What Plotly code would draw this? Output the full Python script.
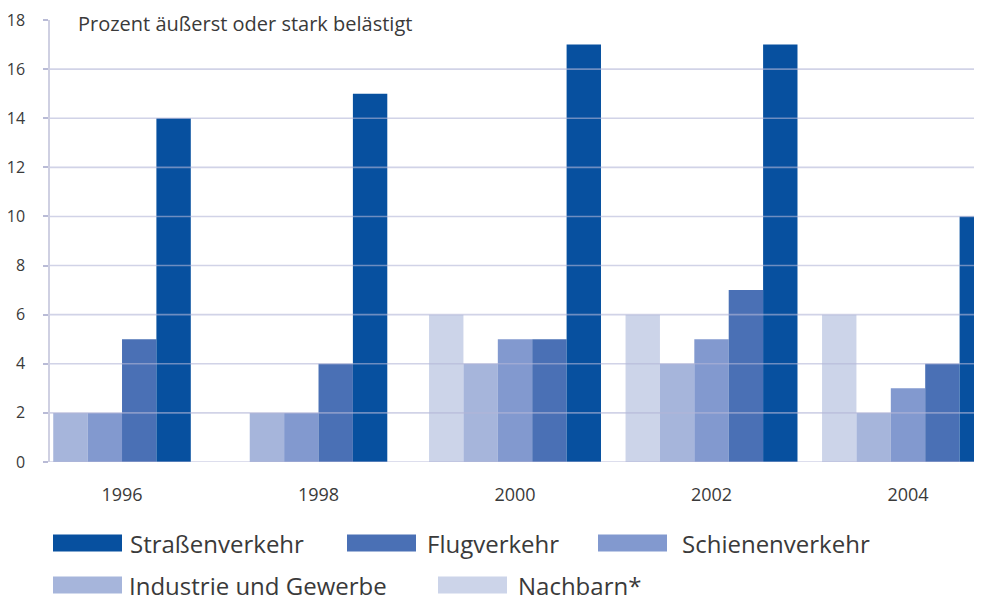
import plotly.graph_objects as go

# ---------------- data ----------------
years = [1996, 1998, 2000, 2002, 2004]
series_names = ["Nachbarn*", "Industrie und Gewerbe", "Schienenverkehr",
                "Flugverkehr", "Straßenverkehr"]
nachbarn = [None, None, 6, 6, 6]
industrie = [2, 2, 4, 4, 2]
schiene = [2, 2, 5, 5, 3]
flug = [5, 4, 5, 7, 4]
strasse = [14, 15, 17, 17, 10]
y_ticks = [0, 2, 4, 6, 8, 10, 12, 14, 16, 18]
grid_values = [0, 2, 4, 6, 8, 10, 12, 14, 16]
y_title = "Prozent äußerst oder stark belästigt"

# ---------------- style ----------------
series_values = [nachbarn, industrie, schiene, flug, strasse]
colors = ["#ccd4e9", "#a6b5db", "#8299cf", "#4a70b5", "#07509f"]
BAR_W = 0.35
FONT = "Open Sans"
TEXT = "#3a3a3a"

OFF = 8  # page body margin
W, H = 982 - OFF, 601 - OFF
ML, MR, MT, MB = 42, 0, 12, 139
PW, PH = W - ML - MR, H - MT - MB


def px_x(x):
    # x given in page pixels
    return (x - OFF - ML) / PW


def px_y(y):
    return (H - MB - (y - OFF)) / PH


# centre present bars in each group
n_present = [sum(v[i] is not None for v in series_values) for i in range(len(years))]
rank = [0] * len(years)

fig = go.Figure()
for name, vals, col in zip(series_names, series_values, colors):
    offsets = []
    for i, v in enumerate(vals):
        if v is None:
            offsets.append(0)
        else:
            offsets.append((rank[i] - n_present[i] / 2) * BAR_W)
            rank[i] += 1
    fig.add_trace(go.Bar(
        x=years, y=vals, name=name, width=BAR_W, offset=offsets,
        marker=dict(color=col, line=dict(width=0)), showlegend=False,
    ))

shapes = []
for g in grid_values:
    shapes.append(dict(type="line", xref="paper", yref="y", x0=0, x1=1, y0=g, y1=g,
                       line=dict(color="rgba(178,182,215,0.6)", width=1.6), layer="above"))

annotations = [dict(text=y_title, xref="paper", yref="y", x=px_x(76), y=18,
                    yshift=-3, xanchor="left", yanchor="middle", showarrow=False,
                    font=dict(family=FONT, size=20, color=TEXT))]

# custom legend (wide swatches)
legend_order = [4, 3, 2, 1, 0]
legend_pos = [(53, 543, 128), (347, 543, 425), (598, 543, 680),
              (53, 585, 127), (438, 585, 516)]
for idx, (sx, sy, tx) in zip(legend_order, legend_pos):
    shapes.append(dict(type="rect", xref="paper", yref="paper",
                       x0=px_x(sx), x1=px_x(sx + 69), y0=px_y(sy + 8.5), y1=px_y(sy - 8.5),
                       fillcolor=colors[idx], line=dict(width=0)))
    annotations.append(dict(text=series_names[idx], xref="paper", yref="paper",
                            x=px_x(tx), y=px_y(sy), xanchor="left", yanchor="middle",
                            showarrow=False,
                            font=dict(family=FONT, size=24, color=TEXT)))

fig.update_layout(
    width=W, height=H, barmode="overlay",
    margin=dict(l=ML, r=MR, t=MT, b=MB, pad=0),
    paper_bgcolor="white", plot_bgcolor="white",
    font=dict(family=FONT, color=TEXT),
    shapes=shapes, annotations=annotations,
    xaxis=dict(range=[1995.267, 2004.753], tickvals=years,
               ticktext=[str(y) for y in years], showgrid=False, zeroline=False,
               showline=False, ticks="", tickfont=dict(size=18, color=TEXT),
               ticklabelstandoff=20, fixedrange=True),
    yaxis=dict(range=[0, 18], tickvals=y_ticks, showgrid=False, zeroline=False,
               showline=True, linecolor="#cfd0e2", linewidth=1.5,
               ticks="outside", ticklen=5, tickcolor="#b9bbd6", tickwidth=1.5,
               tickfont=dict(size=16, color=TEXT), ticklabelstandoff=15,
               fixedrange=True),
)

fig.write_html("out.html")
